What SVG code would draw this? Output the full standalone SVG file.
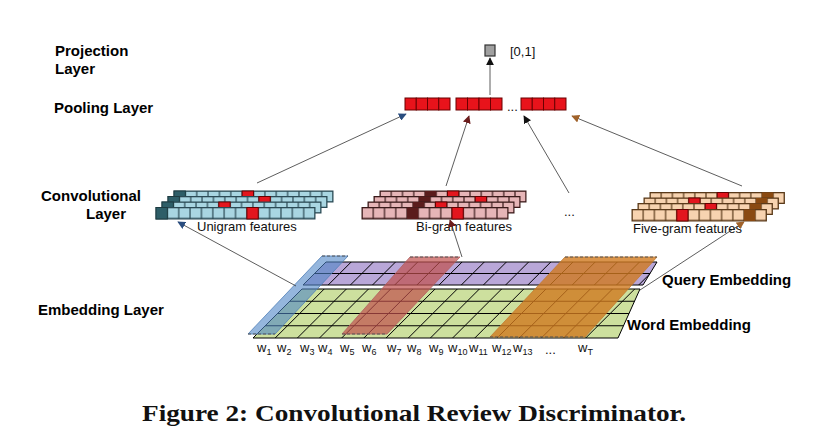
<svg xmlns="http://www.w3.org/2000/svg" width="814" height="445" viewBox="0 0 814 445">
<style>
.lbl{font-family:"Liberation Sans",Arial,sans-serif;font-weight:bold;font-size:15px;fill:#000}
.sm{font-family:"Liberation Sans",Arial,sans-serif;font-size:13px;fill:#111}
.w{font-family:"Liberation Sans",Arial,sans-serif;font-size:13px;fill:#111}
.sub{font-size:9px}
.cap{font-family:"Liberation Serif","Times New Roman",serif;font-weight:bold;font-size:24px;fill:#111}
.con{stroke:#333;stroke-width:0.8;fill:none}
.grid{stroke:#000;stroke-width:1;fill:none}
.pool{fill:#e8131b;stroke:#6a0000;stroke-width:1}
.ov{stroke:#555;stroke-width:1;stroke-dasharray:3,2}
</style>
<defs>
<pattern id="pU" width="11.36" height="11" patternUnits="userSpaceOnUse"><rect width="11.36" height="11" fill="#a9d6e2" stroke="#2b4a55" stroke-width="1.2"/></pattern>
<pattern id="pB" width="11.25" height="11" patternUnits="userSpaceOnUse"><rect width="11.25" height="11" fill="#e6b5b7" stroke="#3a1a1a" stroke-width="1.2"/></pattern>
<pattern id="pF" width="11.2" height="11" patternUnits="userSpaceOnUse"><rect width="11.2" height="11" fill="#f7d3b0" stroke="#5a3a1a" stroke-width="1.2"/></pattern>
<marker id="mBlk" viewBox="0 0 10 10" refX="9" refY="5" markerWidth="8" markerHeight="8" markerUnits="userSpaceOnUse" orient="auto"><path d="M0,0 L10,5 L0,10 z" fill="#111"/></marker>
<marker id="mBlu" viewBox="0 0 10 10" refX="9" refY="5" markerWidth="8" markerHeight="8" markerUnits="userSpaceOnUse" orient="auto"><path d="M0,0 L10,5 L0,10 z" fill="#2a4d7f"/></marker>
<marker id="mRed" viewBox="0 0 10 10" refX="9" refY="5" markerWidth="8" markerHeight="8" markerUnits="userSpaceOnUse" orient="auto"><path d="M0,0 L10,5 L0,10 z" fill="#6b1c1c"/></marker>
<marker id="mBrn" viewBox="0 0 10 10" refX="9" refY="5" markerWidth="8" markerHeight="8" markerUnits="userSpaceOnUse" orient="auto"><path d="M0,0 L10,5 L0,10 z" fill="#a0622a"/></marker>
<clipPath id="cG"><polygon points="302,289 640,289 618,338 253,338"/></clipPath>
<clipPath id="cP"><polygon points="326,262 657,262 643,285 303,285"/></clipPath>
</defs>
<rect width="814" height="445" fill="#fff"/>

<!-- Labels -->
<g id="labels">
<text class="lbl" x="55" y="56">Projection</text>
<text class="lbl" x="55" y="74">Layer</text>
<text class="lbl" x="54" y="113">Pooling Layer</text>
<text class="lbl" x="41" y="201">Convolutional</text>
<text class="lbl" x="86" y="219">Layer</text>
<text class="lbl" x="38" y="315">Embedding Layer</text>
<text class="lbl" x="662" y="285">Query Embedding</text>
<text class="lbl" x="627" y="330">Word Embedding</text>
</g>

<!-- Projection node -->
<g id="projection">
<rect x="485" y="45" width="10" height="11" fill="#a0a0a0" stroke="#333" stroke-width="1.2"/>
<text class="sm" x="510" y="56" font-size="15">[0,1]</text>
</g>

<!-- Pooling node -->
<g id="pooling">
<rect class="pool" x="405" y="98" width="11.25" height="12"/><rect class="pool" x="416.25" y="98" width="11.25" height="12"/><rect class="pool" x="427.5" y="98" width="11.25" height="12"/><rect class="pool" x="438.75" y="98" width="11.25" height="12"/>
<rect class="pool" x="456" y="98" width="11.5" height="12"/><rect class="pool" x="467.5" y="98" width="11.5" height="12"/><rect class="pool" x="479" y="98" width="11.5" height="12"/><rect class="pool" x="490.5" y="98" width="11.5" height="12"/>
<text class="sm" x="507" y="111">...</text>
<rect class="pool" x="521" y="98" width="11.25" height="12"/><rect class="pool" x="532.25" y="98" width="11.25" height="12"/><rect class="pool" x="543.5" y="98" width="11.25" height="12"/><rect class="pool" x="554.75" y="98" width="11.25" height="12"/>
</g>

<!-- Unigram feature map -->
<g id="unigram">
<g transform="translate(174,191)"><rect width="159" height="11" fill="url(#pU)" stroke="#2b4a55"/><rect width="11.36" height="11" fill="#2e5e68" stroke="#1c3a40"/><rect x="68.16" width="11.36" height="11" fill="#e3161e" stroke="#600"/></g>
<g transform="translate(168,196.5)"><rect width="159" height="11" fill="url(#pU)" stroke="#2b4a55"/><rect width="11.36" height="11" fill="#2e5e68" stroke="#1c3a40"/><rect x="90.88" width="11.36" height="11" fill="#e3161e" stroke="#600"/></g>
<g transform="translate(162,202)"><rect width="159" height="11" fill="url(#pU)" stroke="#2b4a55"/><rect width="11.36" height="11" fill="#2e5e68" stroke="#1c3a40"/><rect x="56.8" width="11.36" height="11" fill="#e3161e" stroke="#600"/></g>
<g transform="translate(156,207.5)"><rect width="159" height="11.5" fill="url(#pU)" stroke="#2b4a55"/><rect width="11.36" height="11.5" fill="#2e5e68" stroke="#1c3a40"/><rect x="90.88" width="11.36" height="11.5" fill="#e3161e" stroke="#600"/></g>
<text class="sm" x="197" y="231">Unigram features</text>
</g>

<!-- Bi-gram feature map -->
<g id="bigram">
<g transform="translate(380,191)"><rect width="146" height="11" fill="url(#pB)" stroke="#3a1a1a"/><rect x="45" width="11.25" height="11" fill="#5a1c1c"/><rect x="67.5" width="11.25" height="11" fill="#e3161e" stroke="#600"/></g>
<g transform="translate(374,196.5)"><rect width="146" height="11" fill="url(#pB)" stroke="#3a1a1a"/><rect x="45" width="11.25" height="11" fill="#5a1c1c"/><rect x="101.25" width="11.25" height="11" fill="#e3161e" stroke="#600"/></g>
<g transform="translate(368,202)"><rect width="146" height="11" fill="url(#pB)" stroke="#3a1a1a"/><rect x="45" width="11.25" height="11" fill="#5a1c1c"/><rect x="67.5" width="11.25" height="11" fill="#e3161e" stroke="#600"/></g>
<g transform="translate(362,207.5)"><rect width="146" height="11.5" fill="url(#pB)" stroke="#3a1a1a"/><rect x="45" width="11.25" height="11.5" fill="#5a1c1c"/><rect x="90" width="11.25" height="11.5" fill="#e3161e" stroke="#600"/></g>
<text class="sm" x="416" y="231">Bi-gram features</text>
</g>

<text id="dots-conv" class="sm" x="564" y="216">...</text>

<!-- Five-gram feature map -->
<g id="fivegram">
<g transform="translate(650,192.5)"><rect width="134.4" height="11" fill="url(#pF)" stroke="#5a3a1a"/><rect x="67.2" width="11.2" height="11" fill="#e3161e" stroke="#600"/><rect x="112" width="11.2" height="11" fill="#8a4a12"/></g>
<g transform="translate(644,198)"><rect width="134.4" height="11" fill="url(#pF)" stroke="#5a3a1a"/><rect x="44.8" width="11.2" height="11" fill="#e3161e" stroke="#600"/><rect x="112" width="11.2" height="11" fill="#8a4a12"/></g>
<g transform="translate(638,203.5)"><rect width="134.4" height="11" fill="url(#pF)" stroke="#5a3a1a"/><rect x="67.2" width="11.2" height="11" fill="#e3161e" stroke="#600"/><rect x="112" width="11.2" height="11" fill="#8a4a12"/></g>
<g transform="translate(632,209.5)"><rect width="134.4" height="11.5" fill="url(#pF)" stroke="#5a3a1a"/><rect x="44.8" width="11.2" height="11.5" fill="#e3161e" stroke="#600"/><rect x="112" width="11.2" height="11.5" fill="#8a4a12"/></g>
<text class="sm" x="633" y="233">Five-gram features</text>
</g>

<!-- Embedding layer -->
<g id="embedding">
<polygon points="326,262 657,262 643,285 303,285" fill="#b9a7d8" stroke="#000" stroke-width="1"/>
<polygon points="302,289 640,289 618,338 253,338" fill="#cde09e" stroke="#000" stroke-width="1"/>
<g clip-path="url(#cP)" class="grid">
<line x1="290" y1="273.5" x2="670" y2="273.5"/>
<path d="M275.2,338 L351.2,262 M297.4,338 L373.4,262 M319.5,338 L395.5,262 M341.7,338 L417.7,262 M363.9,338 L439.9,262 M386.1,338 L462.1,262 M408.3,338 L484.3,262 M430.4,338 L506.4,262 M452.6,338 L528.6,262 M474.8,338 L550.8,262 M497,338 L573,262 M519.2,338 L595.2,262 M541.3,338 L617.3,262 M563.5,338 L639.5,262 M585.7,338 L661.7,262"/>
</g>
<g clip-path="url(#cG)" class="grid">
<path d="M240,301.25 H660 M240,313.5 H660 M240,325.75 H660"/>
<path d="M275.2,338 L324.2,289 M297.4,338 L346.4,289 M319.5,338 L368.5,289 M341.7,338 L390.7,289 M363.9,338 L412.9,289 M386.1,338 L435.1,289 M408.3,338 L457.3,289 M430.4,338 L479.4,289 M452.6,338 L501.6,289 M474.8,338 L523.8,289 M497,338 L546,289 M519.2,338 L568.2,289 M541.3,338 L590.3,289 M563.5,338 L612.5,289 M585.7,338 L634.7,289"/>
</g>
<!-- overlays -->
<polygon points="322,256 348,256 275,334 248,334" fill="#4f86c6" fill-opacity="0.6" stroke="#4f7fb8" stroke-width="0.8"/>
<path class="ov" d="M322,256 H348 M248,334 H275"/>
<polygon points="410,257 460,257 387,334 342,334" fill="#c0504d" fill-opacity="0.7" stroke="#b06060" stroke-width="0.8"/>
<path class="ov" d="M410,257 H460 M342,334 H387"/>
<polygon points="565,257 657,257 585,337 490,337" fill="#d0791f" fill-opacity="0.8" stroke="#c07a30" stroke-width="0.8"/>
<path class="ov" d="M565,257 H657 M490,337 H585"/>
</g>

<!-- word labels -->
<g id="words">
<text class="w" x="257" y="352">w<tspan class="sub" dy="3">1</tspan></text>
<text class="w" x="277" y="352">w<tspan class="sub" dy="3">2</tspan></text>
<text class="w" x="300" y="352">w<tspan class="sub" dy="3">3</tspan></text>
<text class="w" x="318" y="352">w<tspan class="sub" dy="3">4</tspan></text>
<text class="w" x="340" y="352">w<tspan class="sub" dy="3">5</tspan></text>
<text class="w" x="362" y="352">w<tspan class="sub" dy="3">6</tspan></text>
<text class="w" x="387" y="352">w<tspan class="sub" dy="3">7</tspan></text>
<text class="w" x="407" y="352">w<tspan class="sub" dy="3">8</tspan></text>
<text class="w" x="429" y="352">w<tspan class="sub" dy="3">9</tspan></text>
<text class="w" x="448" y="352">w<tspan class="sub" dy="3">10</tspan></text>
<text class="w" x="469" y="352">w<tspan class="sub" dy="3">11</tspan></text>
<text class="w" x="492" y="352">w<tspan class="sub" dy="3">12</tspan></text>
<text class="w" x="513" y="352">w<tspan class="sub" dy="3">13</tspan></text>
<text class="w" x="545" y="354" font-size="9">...</text>
<text class="w" x="578" y="352">w<tspan class="sub" dy="3">T</tspan></text>
</g>

<!-- connectors -->
<g id="connectors">
<line class="con" x1="490" y1="95" x2="490" y2="58" marker-end="url(#mBlk)"/>
<line class="con" x1="296" y1="286" x2="178" y2="222" marker-end="url(#mBlu)"/>
<line class="con" x1="257" y1="183" x2="406" y2="114" marker-end="url(#mBlu)"/>
<line class="con" x1="462" y1="257" x2="450" y2="220" marker-end="url(#mRed)"/>
<line class="con" x1="446" y1="186" x2="469" y2="116" marker-end="url(#mRed)"/>
<line class="con" x1="569" y1="193" x2="524" y2="116" marker-end="url(#mBlk)"/>
<line class="con" x1="742" y1="186" x2="572" y2="116" marker-end="url(#mBrn)"/>
<line class="con" x1="640" y1="290" x2="744" y2="222" marker-end="url(#mBrn)"/>
</g>

<text class="cap" x="142" y="421" textLength="544" lengthAdjust="spacingAndGlyphs">Figure 2: Convolutional Review Discriminator.</text>
</svg>
